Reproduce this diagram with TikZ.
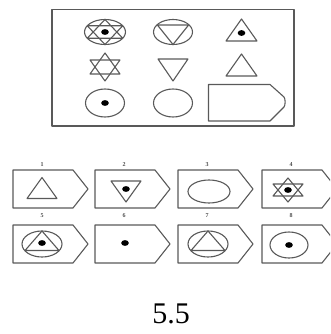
\documentclass[tikz,border=0pt]{standalone}
\usepackage{fontspec}
\setmainfont{Liberation Serif}
\tikzset{
  ln/.style={draw=black!65, line width=1.1pt, line join=round},
  dotf/.style={fill=black},
  lbl/.style={font=\fontsize{6}{7}\selectfont\bfseries, text=black!70, inner sep=0pt},
}
% hexagram: center x,y, width, height
\newcommand{\hexstar}[4]{%
  \draw[ln] (#1,#2-#4/2) -- (#1-#3/2,#2+#4/4) -- (#1+#3/2,#2+#4/4) -- cycle;
  \draw[ln] (#1,#2+#4/2) -- (#1-#3/2,#2-#4/4) -- (#1+#3/2,#2-#4/4) -- cycle;}
% up triangle: center x, y, width, height
\newcommand{\uptri}[4]{%
  \draw[ln] (#1,#2-#4/2) -- (#1-#3/2,#2+#4/2) -- (#1+#3/2,#2+#4/2) -- cycle;}
\newcommand{\dntri}[4]{%
  \draw[ln] (#1,#2+#4/2) -- (#1-#3/2,#2-#4/2) -- (#1+#3/2,#2-#4/2) -- cycle;}
\newcommand{\blackdot}[2]{\fill[dotf] (#1,#2) ellipse [x radius=3.8, y radius=2.9];}
% arrow box: left, top, flat width, tip width, height
\newcommand{\tagbox}[5]{%
  \draw[ln] (#1,#2) -- (#1+#3,#2) -- (#1+#3+#4,#2+#5/2) -- (#1+#3,#2+#5) -- (#1,#2+#5) -- cycle;}
\begin{document}
\begin{tikzpicture}[x=1pt,y=-1pt]
\useasboundingbox (0,0) rectangle (330,334);
\clip (0,0) rectangle (330,334);
% top panel
\draw[ln] (52,9.5) rectangle (294,126);
% row 1
\draw[ln] (105,32) ellipse [x radius=20.5, y radius=12.5];
\hexstar{105}{32}{35.5}{25}
\blackdot{105}{32}
\draw[ln] (173,32) ellipse [x radius=19.5, y radius=12.5];
\draw[ln] (173,44.5) -- (157.4,25) -- (188.6,25) -- cycle;
\uptri{241.5}{30}{31}{22}
\blackdot{241.5}{33}
% row 2
\hexstar{105}{67}{30}{28}
\dntri{173}{70}{30}{22}
\uptri{241.5}{65}{31}{22}
% row 3
\draw[ln] (105,103) ellipse [x radius=19.5, y radius=14];
\blackdot{105}{103}
\draw[ln] (173,103) ellipse [x radius=19.5, y radius=14];
\draw[ln] (208.5,84.5) -- (270,84.5) -- (284,97) .. controls (285.5,99) and (285.5,105) .. (284,107) -- (270,121) -- (208.5,121) -- cycle;
% options
\foreach \xl/\n in {13/1,95/2,178/3,262/4}{
  \tagbox{\xl}{170}{60}{15}{38}
  \node[lbl] at (\xl+29,165) {\n};
}
\foreach \xl/\n in {13/5,95/6,178/7,262/8}{
  \tagbox{\xl}{225}{60}{15}{38}
  \node[lbl] at (\xl+29,216) {\n};
}
% option contents
\uptri{42}{188}{30}{21}
\dntri{126}{191.5}{30}{21}
\blackdot{126}{189}
\draw[ln] (209,191.5) ellipse [x radius=21, y radius=11.5];
\hexstar{288}{190}{30}{24}
\blackdot{288}{190}
\draw[ln] (42,244) ellipse [x radius=20, y radius=13];
\draw[ln] (42,231) -- (25,250.5) -- (59,250.5) -- cycle;
\blackdot{42}{243}
\blackdot{125}{243}
\draw[ln] (208,244) ellipse [x radius=20, y radius=13];
\draw[ln] (208,231) -- (191,250.5) -- (225,250.5) -- cycle;
\draw[ln] (289,245) ellipse [x radius=19, y radius=13];
\blackdot{289}{245}
% caption
\node[font=\fontsize{30}{34}\selectfont, inner sep=0pt] at (171,314) {5.5};
\end{tikzpicture}
\end{document}
